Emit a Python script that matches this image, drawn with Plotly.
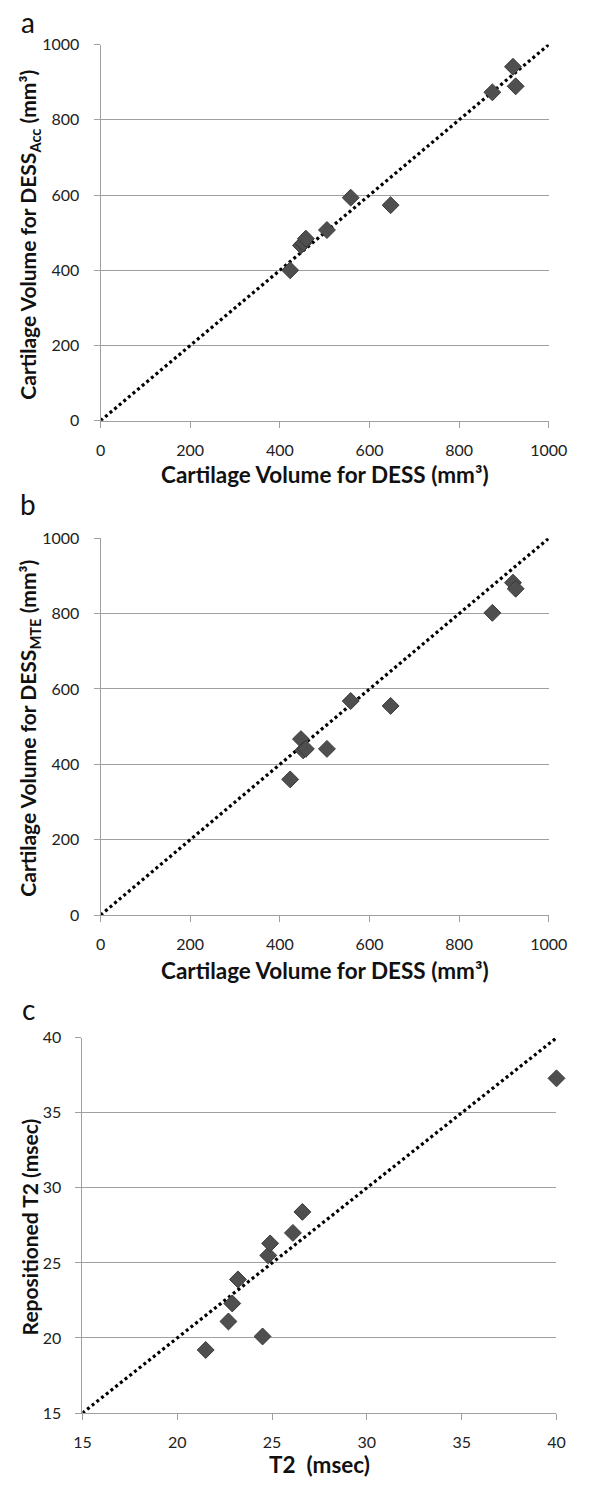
import plotly.graph_objects as go

# ---- data ----
dess_x = [423, 447, 452, 458, 505, 558, 647, 874, 920, 926]
dess_acc_y = [400, 466, 472, 484, 507, 593, 573, 873, 941, 889]
dess_mte_y = [360, 467, 437, 441, 441, 568, 555, 802, 882, 866]
t2_x = [21.5, 22.7, 22.9, 23.2, 24.5, 24.8, 24.9, 26.1, 26.6, 40.0]
t2_rep_y = [19.2, 21.1, 22.3, 23.9, 20.1, 25.5, 26.3, 27.0, 28.4, 37.3]
identity_vol = [0, 1000]
identity_t2 = [15, 40]
vol_ticks = [0, 200, 400, 600, 800, 1000]
t2_ticks = [15, 20, 25, 30, 35, 40]

W, H = 606, 1500
FONT = "Lato"
GRID = "#a0a0a0"
XTITLE_SIZE = 22.5
YTITLE_SIZE = 21

def px_x(v):
    return v / W

def px_y(v):
    return 1 - v / H

panels = [
    dict(x=dess_x, y=dess_acc_y, ident=identity_vol, ticks=vol_ticks,
         xd=[96, 566], yd=[35, 416],
         xtitle="Cartilage Volume for DESS (mm³)",
         ytitle="Cartilage Volume for DESS<sub>Acc</sub> (mm³)",
         label="a", label_y=12, xtitle_y=470, ytitle_x=21, ytitle_dy=2),
    dict(x=dess_x, y=dess_mte_y, ident=identity_vol, ticks=vol_ticks,
         xd=[96, 566], yd=[535, 916.7],
         xtitle="Cartilage Volume for DESS (mm³)",
         ytitle="Cartilage Volume for DESS<sub>MTE</sub> (mm³)",
         label="b", label_y=500, xtitle_y=973, ytitle_x=21, ytitle_dy=2),
    dict(x=t2_x, y=t2_rep_y, ident=identity_t2, ticks=t2_ticks,
         xd=[77, 574], yd=[1041, 1421],
         xtitle="T2  (msec)",
         ytitle="Repositioned T2 (msec)",
         label="c", label_y=1012, xtitle_y=1473, ytitle_x=21, ytitle_dy=2),
]

fig = go.Figure()
annotations = []
layout = {}
for i, p in enumerate(panels, start=1):
    xa = "x" if i == 1 else f"x{i}"
    ya = "y" if i == 1 else f"y{i}"
    fig.add_trace(go.Scatter(
        x=p["ident"], y=p["ident"], mode="lines", xaxis=xa, yaxis=ya,
        line=dict(color="black", width=3.2, dash="3px,3px"),
        cliponaxis=False, showlegend=False, hoverinfo="skip"))
    fig.add_trace(go.Scatter(
        x=p["x"], y=p["y"], mode="markers", xaxis=xa, yaxis=ya,
        marker=dict(symbol="diamond", size=13, color="#4f4f4f",
                    line=dict(color="#3a3a3a", width=1)),
        cliponaxis=False, showlegend=False))
    rng = [p["ident"][0], p["ident"][1]]
    xkey = "xaxis" if i == 1 else f"xaxis{i}"
    ykey = "yaxis" if i == 1 else f"yaxis{i}"
    layout[xkey] = dict(
        domain=[px_x(p["xd"][0]), px_x(p["xd"][1])], anchor=ya, range=rng,
        tickvals=p["ticks"], showgrid=False, zeroline=False,
        showline=True, linecolor=GRID, linewidth=1,
        ticks="outside", ticklen=6, tickcolor=GRID,
        ticklabelstandoff=9,
        tickfont=dict(family=FONT, size=16, color="#222"))
    layout[ykey] = dict(
        domain=[px_y(p["yd"][1]), px_y(p["yd"][0])], anchor=xa, range=rng,
        tickvals=p["ticks"], showgrid=True, gridcolor=GRID, gridwidth=1,
        zeroline=False, showline=True, linecolor=GRID, linewidth=1,
        ticks="outside", ticklen=6, tickcolor=GRID,
        ticklabelstandoff=11,
        tickfont=dict(family=FONT, size=16, color="#222"))
    cx = (p["xd"][0] + p["xd"][1]) / 2
    cy = (p["yd"][0] + p["yd"][1]) / 2 + p["ytitle_dy"]
    annotations.append(dict(
        text=p["xtitle"], x=px_x(cx), y=px_y(p["xtitle_y"]), xref="paper", yref="paper",
        xanchor="center", yanchor="middle", showarrow=False,
        font=dict(family=FONT, size=XTITLE_SIZE, color="#111", weight="bold")))
    annotations.append(dict(
        text=p["ytitle"], x=px_x(p["ytitle_x"]), y=px_y(cy), xref="paper", yref="paper",
        xanchor="center", yanchor="middle", showarrow=False, textangle=-90,
        font=dict(family=FONT, size=YTITLE_SIZE, color="#111", weight="bold")))
    annotations.append(dict(
        text=p["label"], x=px_x(20), y=px_y(p["label_y"]), xref="paper", yref="paper",
        xanchor="center", yanchor="middle", showarrow=False,
        font=dict(family=FONT, size=28, color="#111")))

fig.update_layout(
    width=W, height=H, autosize=False,
    margin=dict(l=0, r=0, t=0, b=0),
    paper_bgcolor="white", plot_bgcolor="white",
    annotations=annotations, showlegend=False,
    **layout)

fig.write_html(
    "out.html",
    config={"displayModeBar": False},
    post_script="document.body.style.margin='0';document.body.style.padding='0';"
                "document.documentElement.style.overflow='hidden';")
